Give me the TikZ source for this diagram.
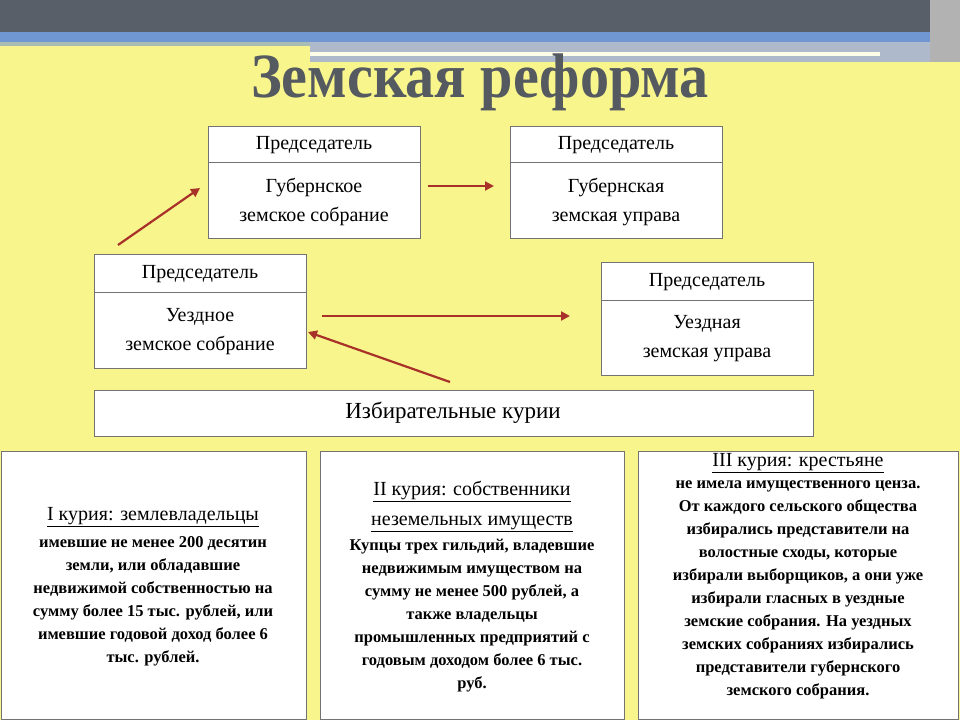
\documentclass[tikz,border=0pt]{standalone}
\usepackage{fontspec}
\setmainfont{Liberation Serif}
\usetikzlibrary{arrows.meta}
\definecolor{bgy}{HTML}{F8F58C}
\definecolor{topbar}{HTML}{585F69}
\definecolor{bluebar}{HTML}{7097D2}
\definecolor{arr}{HTML}{A8322A}
\definecolor{ttl}{HTML}{545A60}
\tikzset{
 box/.style={draw=black!55,fill=white,line width=1pt},
 lbl/.style={font=\fontsize{20}{29}\selectfont,align=center},
 arrow/.style={draw=arr,line width=2.2pt,-{Triangle[length=9pt,width=9pt]}},
 head/.style={font=\fontsize{20}{30}\selectfont,align=center,anchor=north},
 body/.style={font=\bfseries\fontsize{16.5}{23}\selectfont,align=center,anchor=north},
}
\begin{document}
\begin{tikzpicture}[x=1pt,y=-1pt]
\useasboundingbox (0,0) rectangle (960,720);
\fill[bgy] (0,0) rectangle (960,720);
\fill[topbar] (0,0) rectangle (960,32);
\fill[bluebar] (0,32) rectangle (960,42);
\fill[bluebar!60!bgy] (0,42) rectangle (310,46);
\fill[bluebar!50!gray!60] (310,42) rectangle (960,62);
\fill[white!80!bgy] (310,52) rectangle (880,56);
\fill[gray!60] (930,0) rectangle (960,62);
\node[font=\bfseries\fontsize{60}{64}\selectfont,text=ttl,xscale=0.97,yscale=1.05] (title) at (480,82) {Земская реформа};
% boxes
\draw[box] (208,126) rectangle (420,238); \draw[box] (208,162) -- (420,162);
\node[lbl] (h1) at (314,145) {Председатель};
\node[lbl] (g1) at (314,202) {Губернское\\земское собрание};
\draw[box] (510,126) rectangle (722,238); \draw[box] (510,162) -- (722,162);
\node[lbl] (h2) at (616,145) {Председатель};
\node[lbl] (g2) at (616,202) {Губернская\\земская управа};
\draw[box] (94,254) rectangle (306,368); \draw[box] (94,292) -- (306,292);
\node[lbl] (h3) at (200,274) {Председатель};
\node[lbl] (u1) at (200,332) {Уездное\\земское собрание};
\draw[box] (601,262) rectangle (813,375); \draw[box] (601,300) -- (813,300);
\node[lbl] (h4) at (707,282) {Председатель};
\node[lbl] (u2) at (707,339) {Уездная\\земская управа};
\draw[box] (94,390) rectangle (813,436);
\node[font=\fontsize{23}{26}\selectfont] (iz) at (453,413) {Избирательные курии};
% arrows
\coordinate (a1s) at (118,245); \coordinate (a1e) at (200,188);
\coordinate (a2s) at (428,186); \coordinate (a2e) at (494,186);
\coordinate (a3s) at (322,316); \coordinate (a3e) at (570,316);
\coordinate (a4s) at (450,382); \coordinate (a4e) at (308,332);
\draw[arrow] (a1s) -- (a1e);
\draw[arrow] (a2s) -- (a2e);
\draw[arrow] (a3s) -- (a3e);
\draw[arrow] (a4s) -- (a4e);
% bottom boxes
\draw[box] (1,451) rectangle (306,719);
\draw[box] (320,451) rectangle (624,719);
\draw[box] (638,451) rectangle (958,719);
\node[head] (k1h) at (153,504) {\underline{I курия: землевладельцы}};
\node[body] (k1) at (153,533) {имевшие не менее 200 десятин\\земли, или обладавшие\\недвижимой собственностью на\\сумму более 15 тыс. рублей, или\\имевшие годовой доход более 6\\тыс. рублей.};
\node[head] (k2h) at (472,478) {\underline{II курия: собственники}\\\underline{неземельных имуществ}};
\node[body] (k2) at (472,536) {Купцы трех гильдий, владевшие\\недвижимым имуществом на\\сумму не менее 500 рублей, а\\также владельцы\\промышленных предприятий с\\годовым доходом более 6 тыс.\\руб.};
\node[head] (k3h) at (798,450) {\underline{III курия: крестьяне}};
\node[body] (k3) at (798,477) {не имела имущественного ценза.\\От каждого сельского общества\\избирались представители на\\волостные сходы, которые\\избирали выборщиков, а они уже\\избирали гласных в уездные\\земские собрания. На уездных\\земских собраниях избирались\\представители губернского\\земского собрания.};
\end{tikzpicture}
\end{document}
